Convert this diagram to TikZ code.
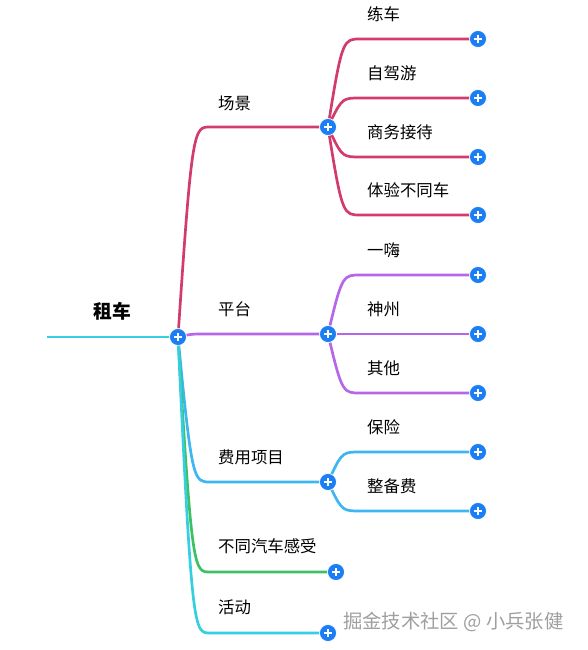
\documentclass[tikz,border=0pt]{standalone}
\usepackage{fontspec}
\newfontfamily\cjk{Noto Sans CJK SC}
\usetikzlibrary{calc,positioning}

\definecolor{scred}{HTML}{D23C6C}
\definecolor{ptpurple}{HTML}{B666E8}
\definecolor{fyblue}{HTML}{3DB6F2}
\definecolor{qcgreen}{HTML}{3FC062}
\definecolor{hdcyan}{HTML}{36CFE2}
\definecolor{plusblue}{HTML}{1B7EF4}

\begin{document}
\begin{tikzpicture}[x=0.03cm, y=-0.03cm, font=\cjk\fontsize{14}{16}\selectfont,
  plus/.style={circle, fill=plusblue, draw=white, line width=0.6pt, minimum size=14.5pt, inner sep=0pt,
    path picture={\draw[white, line width=1.6pt]
      ($(path picture bounding box.center)+(-4,0)$) -- ($(path picture bounding box.center)+(4,0)$)
      ($(path picture bounding box.center)+(0,-4)$) -- ($(path picture bounding box.center)+(0,4)$);}},
  lbl/.style={anchor=west, inner sep=0pt},
  br/.style={line width=2.3pt},
  twig/.style={to path={.. controls ($(\tikztostart |- \tikztotarget)+(14,0)$)
    and ($(\tikztostart |- \tikztotarget)+(16,0)$) .. ($(\tikztostart |- \tikztotarget)+(32,0)$) -- (\tikztotarget)}}]
\useasboundingbox (0,0) rectangle (587,650);

% root
\coordinate (start) at (47,337);
\node[plus] (root) at (178,337) {};
\node[font=\cjk\bfseries\fontsize{16}{18}\selectfont] (rootlbl) at ($(root)+(-66,-26)$) {租车};

% first level
\node[plus] (scene) at (328,127) {};
\node[plus] (plat) at (328,334) {};
\node[plus] (fee) at (328,482) {};
\node[plus] (feel) at (336,572) {};
\node[plus] (event) at (328,633) {};

\node[lbl] at ($(scene)+(-110,-24)$) {场景};
\node[lbl] at ($(plat)+(-110,-25)$) {平台};
\node[lbl] at ($(fee)+(-110,-25)$) {费用项目};
\node[lbl] at ($(feel)+(-118,-26)$) {不同汽车感受};
\node[lbl] at ($(event)+(-110,-26)$) {活动};

% second level
\node[plus] (s1) at (478,39) {};
\node[plus] (s2) at (478,98) {};
\node[plus] (s3) at (478,157) {};
\node[plus] (s4) at (478,215) {};
\node[plus] (p1) at (478,275) {};
\node[plus] (p2) at (478,334) {};
\node[plus] (p3) at (478,393) {};
\node[plus] (f1) at (478,452) {};
\node[plus] (f2) at (478,511) {};

\node[lbl] at ($(s1)+(-111,-25)$) {练车};
\node[lbl] at ($(s2)+(-111,-25)$) {自驾游};
\node[lbl] at ($(s3)+(-111,-25)$) {商务接待};
\node[lbl] at ($(s4)+(-111,-25)$) {体验不同车};
\node[lbl] at ($(p1)+(-111,-25)$) {一嗨};
\node[lbl] at ($(p2)+(-111,-25)$) {神州};
\node[lbl] at ($(p3)+(-111,-25)$) {其他};
\node[lbl] at ($(f1)+(-111,-25)$) {保险};
\node[lbl] at ($(f2)+(-111,-25)$) {整备费};

% connectors
\draw[br, hdcyan] (start) -- (root);
\draw[br, scred] (root) to[twig] (scene);
\draw[br, ptpurple] (root) to[twig] (plat);
\draw[br, fyblue] (root) to[twig] (fee);
\draw[br, qcgreen] (root) to[twig] (feel);
\draw[br, hdcyan] (root) to[twig] (event);
\foreach \n in {s1,s2,s3,s4} \draw[br, scred] (scene) to[twig] (\n);
\foreach \n in {p1,p2,p3} \draw[br, ptpurple] (plat) to[twig] (\n);
\foreach \n in {f1,f2} \draw[br, fyblue] (fee) to[twig] (\n);

% watermark
\node[lbl, text=gray!75, font=\cjk\fontsize{16.5}{18}\selectfont] (mark) at (343,622) {掘金技术社区 @ 小兵张健};
\end{tikzpicture}
\end{document}
